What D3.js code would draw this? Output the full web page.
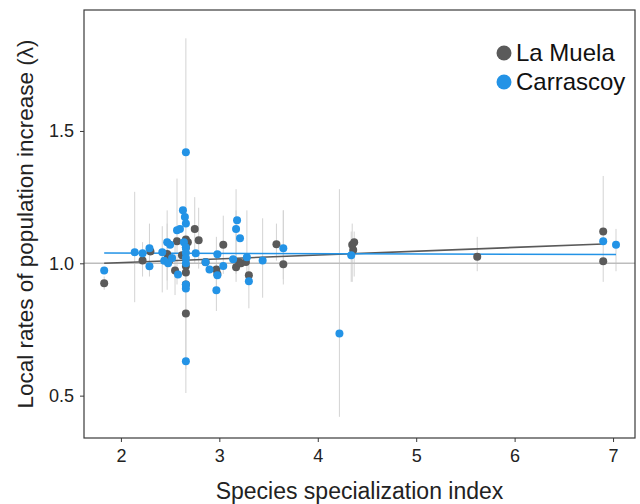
<!DOCTYPE html>
<html>
<head>
<meta charset="utf-8">
<script src="https://cdn.jsdelivr.net/npm/d3@7"></script>
<style>
  body { margin: 0; background: #fff; }
  text { font-family: "Liberation Sans", Arial, sans-serif; }
</style>
</head>
<body>
<div id="chart"></div>
<script>
// Each point: [specialization index, lambda, lower CI, upper CI]
// lower/upper null = no visible bar
let muela = [
  [1.83, 0.925, 0.90, 0.95],
  [2.22, 1.011, 0.95, 1.08],
  [2.30, 1.045, null, null],
  [2.47, 1.035, 0.90, 1.15],
  [2.49, 1.010, null, null],
  [2.55, 0.973, 0.88, 1.10],
  [2.57, 1.083, 0.92, 1.32],
  [2.62, 1.030, null, null],
  [2.66, 1.090, null, null],
  [2.66, 1.060, null, null],
  [2.66, 0.990, null, null],
  [2.66, 0.965, null, null],
  [2.66, 0.920, null, null],
  [2.66, 0.810, 0.60, 1.00],
  [2.68, 1.080, null, null],
  [2.75, 1.130, 1.00, 1.25],
  [2.79, 1.087, 0.98, 1.21],
  [2.86, 1.005, null, null],
  [2.97, 0.977, 0.90, 1.10],
  [2.98, 0.960, null, null],
  [3.04, 1.070, 0.96, 1.18],
  [3.17, 0.985, 0.93, 1.20],
  [3.20, 1.004, null, null],
  [3.22, 1.000, null, null],
  [3.27, 1.005, null, null],
  [3.30, 0.955, 0.83, 1.01],
  [3.58, 1.072, 1.01, 1.15],
  [3.65, 0.996, 0.92, 1.20],
  [4.35, 1.070, 0.93, 1.15],
  [4.37, 1.080, 0.95, 1.12],
  [4.36, 1.050, null, null],
  [5.62, 1.025, 0.97, 1.10],
  [6.90, 1.120, 0.93, 1.33],
  [6.90, 1.008, null, null]
]

let carrascoy = [
  [1.83, 0.973, null, null],
  [2.14, 1.042, 0.853, 1.27],
  [2.22, 1.038, null, null],
  [2.29, 1.057, 0.95, 1.15],
  [2.29, 0.989, null, null],
  [2.42, 1.042, 0.89, 1.14],
  [2.44, 1.010, null, null],
  [2.47, 1.080, 0.935, 1.20],
  [2.50, 1.070, null, null],
  [2.48, 1.000, null, null],
  [2.52, 1.020, null, null],
  [2.58, 0.958, null, null],
  [2.57, 1.125, null, null],
  [2.60, 1.130, null, null],
  [2.63, 1.200, null, null],
  [2.65, 1.175, null, null],
  [2.66, 1.150, null, null],
  [2.66, 1.420, null, null],
  [2.64, 1.080, null, null],
  [2.66, 1.060, null, null],
  [2.66, 1.040, null, null],
  [2.66, 1.020, null, null],
  [2.66, 1.000, null, null],
  [2.66, 0.905, null, null],
  [2.66, 0.920, null, null],
  [2.66, 0.630, 0.51, 1.85],
  [2.76, 1.038, null, null],
  [2.86, 1.004, null, null],
  [2.90, 0.977, null, null],
  [2.98, 1.034, null, null],
  [2.98, 0.955, null, null],
  [2.97, 0.898, 0.82, 1.00],
  [3.04, 0.990, null, null],
  [3.14, 1.015, null, null],
  [3.17, 1.130, 0.96, 1.28],
  [3.18, 1.163, null, null],
  [3.21, 1.095, null, null],
  [3.28, 1.023, 0.935, 1.20],
  [3.30, 0.932, null, null],
  [3.44, 1.011, 0.87, 1.17],
  [3.65, 1.057, 0.94, 1.20],
  [4.22, 0.735, 0.42, 1.28],
  [4.34, 1.030, 0.93, 1.12],
  [6.90, 1.083, null, null],
  [7.03, 1.070, 0.97, 1.13]
]

// fitted lines (start, end)
let muelaFit = [[1.83, 1.000], [6.90, 1.073]]
let carrascoyFit = [[1.83, 1.039], [7.03, 1.033]]

let xTicks = [2, 3, 4, 5, 6, 7]
let yTicks = [0.5, 1.0, 1.5]

let sites = ['La Muela', 'Carrascoy']
let siteColors = ['#5a5a5a', '#2393e6']

// setup
let chart = { width: 640, height: 504 }
let margin = { top: 10, right: 5, bottom: 66, left: 84 }

let x = d3.scaleLinear().domain([1.625, 7.223]).range([margin.left, chart.width - margin.right])
let y = d3.scaleLinear().domain([0.34, 1.957]).range([chart.height - margin.bottom, margin.top])

let svg = d3.select('#chart')
  .append('svg')
    .attr('width', chart.width)
    .attr('height', chart.height)

// error bars
let allPoints = muela.concat(carrascoy).filter((d) => d[2] !== null)
svg.selectAll('line.err')
  .data(allPoints)
  .enter()
  .append('line')
    .attr('class', 'err')
    .attr('x1', (d) => x(d[0]))
    .attr('x2', (d) => x(d[0]))
    .attr('y1', (d) => y(d[2]))
    .attr('y2', (d) => y(d[3]))
    .attr('stroke', '#d3d3d3')
    .attr('stroke-width', 1)

// reference line at lambda = 1
svg.append('line')
  .attr('x1', margin.left)
  .attr('x2', chart.width - margin.right)
  .attr('y1', y(1))
  .attr('y2', y(1))
  .attr('stroke', '#bdbdbd')
  .attr('stroke-width', 1.5)

// fitted lines
let line = d3.line().x((d) => x(d[0])).y((d) => y(d[1]))
svg.selectAll('path.fit')
  .data([muelaFit, carrascoyFit])
  .enter()
  .append('path')
    .attr('class', 'fit')
    .attr('d', line)
    .attr('fill', 'none')
    .attr('stroke', (d, i) => siteColors[i])
    .attr('stroke-width', 1.6)

// points
;[muela, carrascoy].forEach((set, i) => {
  svg.append('g')
    .selectAll('circle')
    .data(set)
    .enter()
    .append('circle')
      .attr('cx', (d) => x(d[0]))
      .attr('cy', (d) => y(d[1]))
      .attr('r', 4)
      .attr('fill', siteColors[i])
})

// panel border
svg.append('rect')
  .attr('x', margin.left)
  .attr('y', margin.top)
  .attr('width', chart.width - margin.right - margin.left)
  .attr('height', chart.height - margin.bottom - margin.top)
  .attr('fill', 'none')
  .attr('stroke', '#3a3a3a')
  .attr('stroke-width', 1.2)

// axes
let xAxis = svg.append('g')
  .attr('transform', `translate(0, ${chart.height - margin.bottom})`)
  .call(d3.axisBottom(x).tickValues(xTicks).tickFormat(d3.format('d')).tickSize(4).tickPadding(7))
let yAxis = svg.append('g')
  .attr('transform', `translate(${margin.left}, 0)`)
  .call(d3.axisLeft(y).tickValues(yTicks).tickFormat(d3.format('.1f')).tickSize(4).tickPadding(6))

;[xAxis, yAxis].forEach((ax) => {
  ax.select('.domain').remove()
  ax.selectAll('.tick line').attr('stroke', '#3a3a3a')
  ax.selectAll('.tick text')
    .attr('fill', '#222')
    .style('font-size', '18px')
    .style('font-family', '"Liberation Sans", Arial, sans-serif')
})

// axis titles
svg.append('text')
  .attr('x', (margin.left + chart.width - margin.right) / 2)
  .attr('y', 499)
  .attr('text-anchor', 'middle')
  .attr('fill', '#222')
  .style('font-size', '23px')
  .text('Species specialization index')

svg.append('text')
  .attr('transform', `translate(33, ${(margin.top + chart.height - margin.bottom) / 2}) rotate(-90)`)
  .attr('text-anchor', 'middle')
  .attr('fill', '#222')
  .style('font-size', '22.5px')
  .text('Local rates of population increase (λ)')

// legend
let legend = svg.append('g')
  .selectAll('g')
  .data(sites)
  .enter()
  .append('g')
    .attr('transform', (d, i) => `translate(504, ${53 + i * 29})`)

legend.append('circle')
  .attr('r', 7.5)
  .attr('fill', (d, i) => siteColors[i])

legend.append('text')
  .attr('x', 12)
  .attr('dy', '0.35em')
  .attr('fill', '#111')
  .style('font-size', '24px')
  .text((d) => d)
</script>
</body>
</html>
